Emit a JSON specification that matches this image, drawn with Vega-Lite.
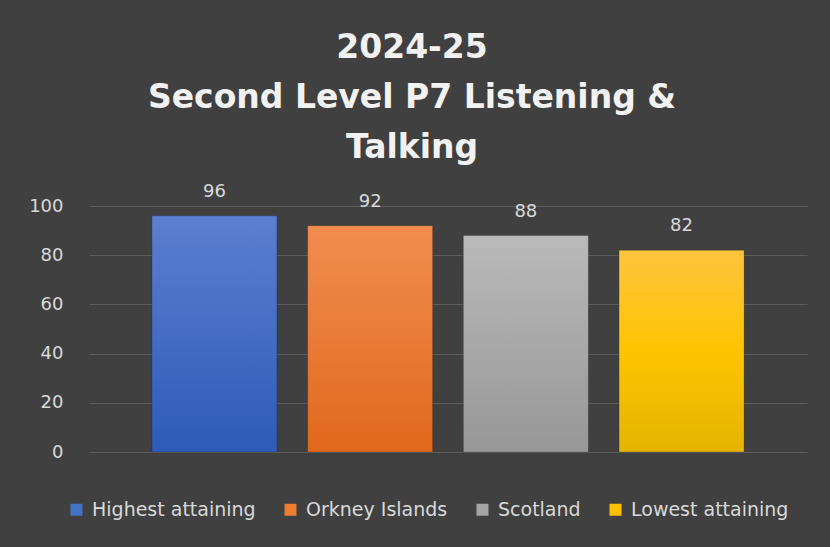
{
  "$schema": "https://vega.github.io/schema/vega-lite/v6.json",
  "width": 718,
  "height": 246,
  "autosize": {"type": "none"},
  "padding": {"left": 89, "top": 206, "right": 23, "bottom": 95},
  "background": "#404040",
  "title": {
    "text": ["2024-25", "Second Level P7 Listening &", "Talking"],
    "font": "DejaVu Sans",
    "fontSize": 33,
    "fontWeight": "bold",
    "color": "#f2f2f2",
    "lineHeight": 50,
    "anchor": "middle",
    "frame": "group",
    "dx": -36,
    "offset": 18
  },
  "data": {
    "values": [
      {"cat": "Highest attaining", "value": 96},
      {"cat": "Orkney Islands", "value": 92},
      {"cat": "Scotland", "value": 88},
      {"cat": "Lowest attaining", "value": 82}
    ]
  },
  "config": {
    "view": {"stroke": null},
    "font": "DejaVu Sans"
  },
  "encoding": {
    "x": {
      "field": "cat",
      "type": "nominal",
      "sort": null,
      "axis": null,
      "scale": {"paddingInner": 0.197, "paddingOuter": 0.404}
    },
    "y": {
      "field": "value",
      "type": "quantitative",
      "scale": {"domain": [0, 100]},
      "axis": {
        "values": [0, 20, 40, 60, 80, 100],
        "title": null,
        "domain": false,
        "ticks": false,
        "labelPadding": 26,
        "labelFontSize": 18,
        "labelColor": "#d9d9d9",
        "gridColor": "#5c5c5c",
        "gridWidth": 1.2
      }
    }
  },
  "layer": [
    {
      "mark": {"type": "bar", "stroke": "#00000033", "strokeWidth": 1},
      "encoding": {
        "color": {
          "field": "cat",
          "type": "nominal",
          "scale": {
            "domain": ["Highest attaining", "Orkney Islands", "Scotland", "Lowest attaining"],
            "range": ["#4472c4", "#ed7d31", "#a5a5a5", "#ffc000"]
          },
          "legend": {
            "orient": "none",
            "legendX": -22,
            "legendY": 294,
            "direction": "horizontal",
            "title": null,
            "symbolType": "square",
            "symbolSize": 144,
            "symbolStrokeWidth": 0,
            "labelFont": "DejaVu Sans",
            "labelFontSize": 19,
            "labelLimit": 400,
            "labelColor": "#d9d9d9",
            "labelOffset": 6,
            "columnPadding": 25
          },
          "condition": [
            {"test": "datum.cat === 'Highest attaining'", "value": {"gradient": "linear", "x1": 0, "y1": 0, "x2": 0, "y2": 1, "stops": [{"offset": 0, "color": "#5b7fd0"}, {"offset": 1, "color": "#2d5bb7"}]}},
            {"test": "datum.cat === 'Orkney Islands'", "value": {"gradient": "linear", "x1": 0, "y1": 0, "x2": 0, "y2": 1, "stops": [{"offset": 0, "color": "#f28d50"}, {"offset": 1, "color": "#e0691c"}]}},
            {"test": "datum.cat === 'Scotland'", "value": {"gradient": "linear", "x1": 0, "y1": 0, "x2": 0, "y2": 1, "stops": [{"offset": 0, "color": "#bababa"}, {"offset": 1, "color": "#979797"}]}},
            {"test": "datum.cat === 'Lowest attaining'", "value": {"gradient": "linear", "x1": 0, "y1": 0, "x2": 0, "y2": 1, "stops": [{"offset": 0, "color": "#ffc43e"}, {"offset": 0.5, "color": "#ffc400"}, {"offset": 1, "color": "#e5b400"}]}}
          ]
        }
      }
    },
    {
      "mark": {"type": "text", "dy": -24, "fontSize": 18, "color": "#d9d9d9"},
      "encoding": {"text": {"field": "value", "type": "quantitative"}}
    }
  ]
}
